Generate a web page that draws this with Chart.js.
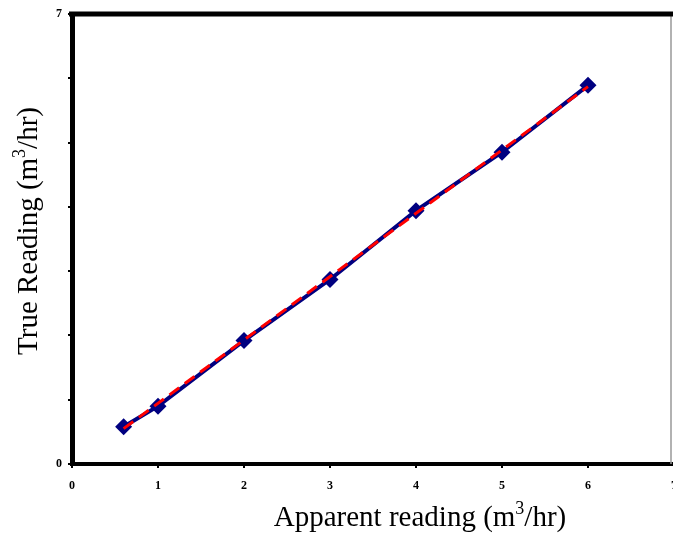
<!DOCTYPE html>
<html>
<head>
<meta charset="utf-8">
<script src="https://cdn.jsdelivr.net/npm/chart.js@4"></script>
<style>
  html, body { margin: 0; padding: 0; background: #fff; overflow: hidden; }
  #c { display: block; }
</style>
</head>
<body>
<canvas id="c" width="690" height="541"></canvas>
<script>
// Calibration readings (m3/hr)
const apparent = [0.6, 1, 2, 3, 4, 5, 6];
const trueReading = [0.58, 0.90, 1.92, 2.87, 3.94, 4.85, 5.89];

// Straight-line fit drawn over the readings (end points)
const fitApparent = [0.6, 6];
const fitTrue = [0.55, 5.87];

// Axis ticks and which values get a label
const xTicks = [0, 1, 2, 3, 4, 5, 6, 7];
const yTicks = [0, 1, 2, 3, 4, 5, 6, 7];
const yLabelled = [0, 7];

const serif = '"Liberation Serif", "Times New Roman", serif';

function toPoints(xs, ys) {
  return xs.map((x, i) => ({ x: x, y: ys[i] }));
}

// Frame on the top and right of the plot area
const frame = {
  id: 'frame',
  afterDatasetsDraw(chart) {
    const { ctx, chartArea: a } = chart;
    ctx.save();
    ctx.strokeStyle = '#999';
    ctx.lineWidth = 1.5;
    ctx.beginPath();
    ctx.moveTo(a.right - 3, a.top);
    ctx.lineTo(a.right - 3, a.bottom);
    ctx.stroke();
    ctx.strokeStyle = '#000';
    ctx.lineWidth = 5;
    ctx.beginPath();
    ctx.moveTo(a.left - 3, a.top);
    ctx.lineTo(chart.width, a.top);
    ctx.stroke();
    ctx.restore();
  }
};

// Axis titles with a raised exponent
function drawTitle(ctx, parts, x, y) {
  const big = '29px ' + serif;
  const small = '18px ' + serif;
  let w = 0;
  parts.forEach(p => { ctx.font = p.sup ? small : big; w += ctx.measureText(p.t).width; });
  let cx = x - w / 2;
  parts.forEach(p => {
    ctx.font = p.sup ? small : big;
    ctx.fillText(p.t, cx, p.sup ? y - 12 : y);
    cx += ctx.measureText(p.t).width;
  });
}

const titles = {
  id: 'titles',
  afterDraw(chart) {
    const { ctx } = chart;
    ctx.save();
    ctx.fillStyle = '#000';
    ctx.textBaseline = 'alphabetic';
    ctx.textAlign = 'left';
    drawTitle(ctx, [{ t: 'Apparent reading (m' }, { t: '3', sup: true }, { t: '/hr)' }], 420, 526);
    ctx.translate(37, 231);
    ctx.rotate(-Math.PI / 2);
    drawTitle(ctx, [{ t: 'True Reading (m' }, { t: '3', sup: true }, { t: '/hr)' }], 0, 0);
    ctx.restore();
  }
};

new Chart(document.getElementById('c'), {
  type: 'scatter',
  data: {
    datasets: [
      {
        label: 'Fit',
        data: toPoints(fitApparent, fitTrue),
        showLine: true,
        borderColor: '#ff0000',
        borderWidth: 3,
        borderDash: [12, 7],
        pointRadius: 0,
        order: 0
      },
      {
        label: 'True reading',
        data: toPoints(apparent, trueReading),
        showLine: true,
        borderColor: '#000080',
        backgroundColor: '#000080',
        borderWidth: 4,
        pointStyle: 'rectRot',
        pointRadius: 8.5,
        pointBorderWidth: 0,
        order: 1
      }
    ]
  },
  options: {
    responsive: false,
    animation: false,
    devicePixelRatio: 1,
    layout: { padding: { left: 0, top: 14, right: 16, bottom: 0 } },
    plugins: { legend: { display: false }, tooltip: { enabled: false } },
    scales: {
      x: {
        type: 'linear',
        min: 0, max: 7,
        afterBuildTicks: s => { s.ticks = xTicks.map(v => ({ value: v })); },
        afterFit: s => { s.height = 77; },
        border: { display: true, color: '#000', width: 4 },
        grid: { drawOnChartArea: false, drawTicks: true, tickLength: 4, color: '#000', lineWidth: 2 },
        ticks: {
          color: '#000',
          padding: 11,
          maxRotation: 0,
          font: { family: serif, size: 12, weight: 'bold' },
          callback: v => String(v)
        }
      },
      y: {
        type: 'linear',
        min: 0, max: 7,
        afterBuildTicks: s => { s.ticks = yTicks.map(v => ({ value: v })); },
        afterFit: s => { s.width = 72; },
        border: { display: true, color: '#000', width: 5 },
        grid: { drawOnChartArea: false, drawTicks: true, tickLength: 4, color: '#000', lineWidth: 2 },
        ticks: {
          color: '#000',
          padding: 6,
          font: { family: serif, size: 12, weight: 'bold' },
          callback: v => (yLabelled.includes(v) ? String(v) : '')
        }
      }
    }
  },
  plugins: [frame, titles]
});
</script>
</body>
</html>
